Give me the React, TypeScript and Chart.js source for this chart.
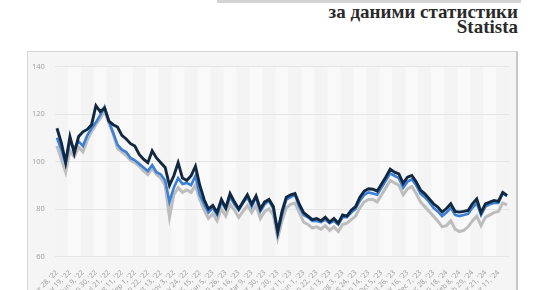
import React, { useEffect, useRef } from "react";
import { Chart, registerables } from "chart.js";

Chart.register(...registerables);

const categories = [
  "Apr 28, '22", "May 5, '22", "May 12, '22", "May 19, '22", "May 26, '22", "Jun 2, '22", "Jun 9, '22", "Jun 16, '22", "Jun 23, '22", "Jun 30, '22",
  "Jul 7, '22", "Jul 14, '22", "Jul 21, '22", "Jul 28, '22", "Aug 4, '22", "Aug 11, '22", "Aug 18, '22", "Aug 25, '22", "Sep 1, '22", "Sep 8, '22",
  "Sep 15, '22", "Sep 22, '22", "Sep 29, '22", "Oct 6, '22", "Oct 13, '22", "Oct 20, '22", "Oct 27, '22", "Nov 3, '22", "Nov 10, '22", "Nov 17, '22",
  "Nov 24, '22", "Dec 1, '22", "Dec 8, '22", "Dec 15, '22", "Dec 22, '22", "Dec 29, '22",
  "Jan 5, '23", "Jan 12, '23", "Jan 19, '23", "Jan 26, '23", "Feb 2, '23", "Feb 9, '23", "Feb 16, '23", "Feb 23, '23", "Mar 2, '23", "Mar 9, '23",
  "Mar 16, '23", "Mar 23, '23", "Mar 30, '23", "Apr 6, '23", "Apr 13, '23", "Apr 20, '23", "Apr 27, '23", "May 4, '23", "May 11, '23", "May 18, '23",
  "May 25, '23", "Jun 1, '23", "Jun 8, '23", "Jun 15, '23", "Jun 22, '23", "Jun 29, '23", "Jul 6, '23", "Jul 13, '23", "Jul 20, '23", "Jul 27, '23",
  "Aug 3, '23", "Aug 10, '23", "Aug 17, '23", "Aug 24, '23", "Aug 31, '23", "Sep 7, '23", "Sep 14, '23", "Sep 21, '23", "Sep 28, '23", "Oct 5, '23",
  "Oct 12, '23", "Oct 19, '23", "Oct 26, '23", "Nov 2, '23", "Nov 9, '23", "Nov 16, '23", "Nov 23, '23", "Nov 30, '23", "Dec 7, '23", "Dec 14, '23",
  "Dec 21, '23", "Dec 28, '23",
  "Jan 4, '24", "Jan 11, '24", "Jan 18, '24", "Jan 25, '24", "Feb 1, '24", "Feb 8, '24", "Feb 15, '24", "Feb 22, '24", "Feb 29, '24", "Mar 7, '24",
  "Mar 14, '24", "Mar 21, '24", "Mar 28, '24", "Apr 4, '24", "Apr 11, '24", "Apr 18, '24", "Apr 25, '24"
];

const navySeries = [
  114, 108, 99.7, 110.5, 103.5, 110.5, 112.5, 113.5, 115.5, 123.5,
  121, 122.5, 117, 115.5, 114.5, 111, 109.5, 107.5, 106.5, 103,
  101, 99.5, 104.5, 101.5, 99.5, 97.5, 90, 94, 99.5, 93,
  92, 94, 98, 90, 84, 80, 81.5, 78.5, 84, 80.5,
  86.5, 83, 80, 83, 86, 82, 85.5, 80, 83, 84,
  81, 70.5, 79, 85, 86, 86.5, 82, 78.5, 77, 75.5,
  76, 75, 76.5, 74.5, 76, 74, 77.5, 77, 79.5, 81,
  85, 87.5, 88.5, 88.3, 87.5, 90.5, 93.5, 96.8, 95.5, 94.8,
  90.8, 93.4, 94.1, 91.5, 88, 86.4, 84.3, 82.2, 80.8, 78.7,
  80.2, 82.2, 79, 78.7, 79, 79.4, 82.2, 84.3, 78.5, 82.2,
  82.9, 83.6, 83.2, 87, 85.7
];

const blueSeries = [
  110, 105, 99, 108.5, 105.5, 108.5, 106.5, 111, 114, 116.5,
  119.5, 123, 117, 112, 107, 105, 104, 101.5, 100.5, 99,
  97.5, 96, 98.5, 95.5, 94.5, 92, 83, 89, 93, 90.5,
  91, 90, 94, 86, 82, 78.5, 80.5, 77.5, 83, 80,
  85, 82, 79.5, 82.5, 85, 81, 85, 79, 82, 83.5,
  80, 69.5, 77.5, 84, 85, 86, 81, 77.5, 76.5, 75,
  75, 74.5, 75.5, 74, 75, 73.5, 76.5, 76.5, 78.5, 80,
  83.5, 86, 87, 86.5, 86, 89, 92, 95, 94, 93,
  89, 91.5, 92.5, 90, 86.5, 85, 83, 80.5, 79, 77,
  78.5, 80.5, 77.5, 77, 77.5, 78, 80.5, 82.5, 77.5, 81,
  82, 82.5, 82.5, 86.5, 85.5
];

const graySeries = [
  106.5, 101, 95.5, 104.5, 102, 106, 104, 109, 112.5, 115.5,
  118, 121.4, 116, 111.5, 105.5, 104, 102.5, 100.5, 99.5, 98,
  96, 94.5, 97, 94.5, 93, 90, 76.5, 86, 89, 87,
  88, 87, 90, 84, 79.5, 76, 78, 75, 80, 77,
  82, 79.5, 76.5, 79, 81.5, 78.5, 81.5, 76, 79, 80,
  77.5, 67.7, 75, 80.5, 82, 82.5, 78.5, 74.5, 73.5, 72,
  72.5, 71.5, 73, 71, 72.5, 70.5, 73.5, 74, 75.5, 77,
  80.5, 83, 84, 84, 83, 86, 89, 92, 91, 90,
  86, 88.5, 89.5, 86.5, 83, 81, 79, 77, 75, 72.5,
  73, 75, 71.5, 70.5, 71, 72.5, 75, 77, 73, 76.5,
  77.5, 78.5, 79, 82.5, 81.8
];

const yMin = 60;
const yMax = 140;
const yStep = 20;
const labelEvery = 3;

const stripePlugin = {
  id: "stripes",
  beforeDraw(chart: any) {
    const { ctx, chartArea: a, scales } = chart;
    const x = scales.x;
    const n = categories.length;
    ctx.save();
    ctx.fillStyle = "#f4f4f4";
    ctx.fillRect(a.left, a.top, a.right - a.left, a.bottom - a.top);
    const half = (x.getPixelForValue(1) - x.getPixelForValue(0)) / 2;
    for (let k = 0; k * labelEvery < n; k++) {
      if (k % 2 === 1) {
        const i0 = k * labelEvery;
        const i1 = Math.min(i0 + labelEvery - 1, n - 1);
        const x0 = x.getPixelForValue(i0) - half;
        const x1 = Math.min(x.getPixelForValue(i1) + half, a.right);
        ctx.fillStyle = "#f9f9f9";
        ctx.fillRect(x0, a.top, x1 - x0, a.bottom - a.top);
      }
    }
    ctx.restore();
  },
};

function LineChart() {
  const ref = useRef<HTMLCanvasElement | null>(null);
  useEffect(() => {
    if (!ref.current) return;
    const chart = new Chart(ref.current, {
      type: "line",
      data: {
        labels: categories,
        datasets: [
          { data: navySeries, borderColor: "#112840", borderWidth: 2.9, pointRadius: 0, tension: 0 },
          { data: blueSeries, borderColor: "#3b7fd6", borderWidth: 2.6, pointRadius: 0, tension: 0 },
          { data: graySeries, borderColor: "#bdbdbd", borderWidth: 3, pointRadius: 0, tension: 0 },
        ],
      },
      options: {
        animation: false,
        responsive: false,
        devicePixelRatio: 1,
        layout: { padding: { top: 13.5, right: 6.8, left: 0, bottom: 0 } },
        plugins: { legend: { display: false }, tooltip: { enabled: false } },
        scales: {
          x: {
            offset: true,
            grid: { display: false },
            border: { display: false },
            ticks: {
              autoSkip: false,
              minRotation: 45,
              maxRotation: 45,
              padding: 4,
              color: "#9a9a9a",
              font: { family: "'Open Sans'", size: 7 },
              callback: (_v: any, i: number) => (i % labelEvery === 0 ? categories[i] : ""),
            },
            afterFit: (s: any) => {
              s.height = 33.5;
              s.paddingLeft = 0;
              s.paddingRight = 0;
            },
          },
          y: {
            min: yMin,
            max: yMax,
            grid: { color: "#e5e5e5", drawTicks: false, lineWidth: 1 },
            border: { display: false },
            ticks: {
              stepSize: yStep,
              padding: 10,
              color: "#a0a0a0",
              font: { family: "'Open Sans'", size: 7.5 },
            },
            afterFit: (s: any) => {
              s.width = 26.8;
            },
          },
        },
      },
      plugins: [stripePlugin],
    });
    return () => chart.destroy();
  }, []);
  return <canvas ref={ref} width={488} height={238} style={{ position: "absolute", left: 28, top: 52, width: 488, height: 238 }} />;
}

export default function App() {
  return (
    <div style={{ position: "absolute", left: 0, top: 0, width: 540, height: 290, overflow: "hidden", background: "#ffffff" }}>
      <div style={{ position: "absolute", left: 217, top: 0, width: 304, height: 2.5, background: "#d4d4d4" }} />
      <div
        style={{
          position: "absolute",
          right: 22,
          top: 4,
          textAlign: "right",
          fontFamily: "'Liberation Serif', serif",
          fontWeight: 700,
          fontSize: 19,
          lineHeight: "15px",
          color: "#2a2a2a",
          whiteSpace: "nowrap",
        }}
      >
        <div>за даними статистики</div>
        <div>Statista</div>
      </div>
      <div
        style={{
          position: "absolute",
          left: 27,
          top: 51,
          width: 488,
          height: 260,
          background: "#f5f5f5",
          borderTop: "1px solid #d6d6d6",
          borderLeft: "1px solid #d6d6d6",
          borderRight: "2px solid #c6c6c6",
        }}
      />
      <LineChart />
    </div>
  );
}
